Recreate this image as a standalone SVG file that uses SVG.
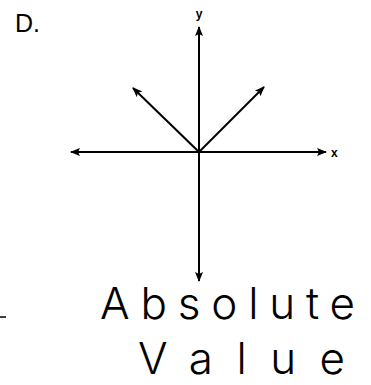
<svg xmlns="http://www.w3.org/2000/svg" width="371" height="385" viewBox="0 0 371 385">
<defs>
<marker id="ah" viewBox="0 0 10 8" refX="9" refY="4" markerWidth="10" markerHeight="8" markerUnits="userSpaceOnUse" orient="auto">
<path d="M0,0 L10,4 L0,8 L2,4 Z" fill="#000"/>
</marker>
<style>
.ax{stroke:#000;stroke-width:2;fill:none;marker-end:url(#ah)}
.lbl{font-family:"Liberation Sans",Arial,sans-serif;font-weight:bold;fill:#000}
.hw{font-family:"Inter","DejaVu Sans",sans-serif;font-weight:300;fill:#000}
</style>
</defs>
<rect width="371" height="385" fill="#fff"/>
<text x="15" y="32" font-family="Liberation Sans, Arial, sans-serif" font-size="25" fill="#000">D.</text>
<g id="connectors">
<line class="ax" x1="199" y1="152" x2="199" y2="27"/>
<line class="ax" x1="199" y1="152" x2="199" y2="281"/>
<line class="ax" x1="199" y1="152" x2="71" y2="152"/>
<line class="ax" x1="199" y1="152" x2="326" y2="152"/>
<line class="ax" x1="199" y1="152" x2="133" y2="88"/>
<line class="ax" x1="199" y1="152" x2="264" y2="87"/>
</g>
<g id="label-y"><text class="lbl" x="199" y="18" font-size="12" text-anchor="middle">y</text></g>
<g id="label-x"><text class="lbl" x="331" y="157" font-size="12">x</text></g>
<line x1="0" y1="317" x2="6" y2="317" stroke="#000" stroke-width="1.5"/>
<g id="note">
<text class="hw" x="100" y="319" font-size="44" textLength="255" lengthAdjust="spacing">Absolute</text>
<text class="hw" x="138" y="374" font-size="44" textLength="207" lengthAdjust="spacing">Value</text>
</g>
</svg>
